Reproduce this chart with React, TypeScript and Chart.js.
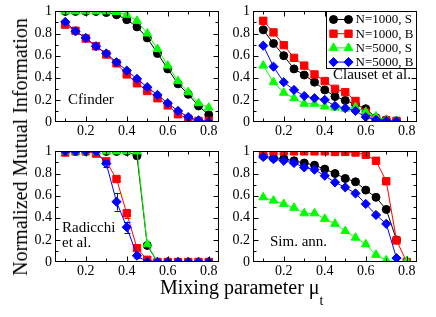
import React, { useEffect, useRef } from 'react';
import { Chart, registerables } from 'chart.js';

Chart.register(...registerables);

const mixing = [0.1, 0.15, 0.2, 0.25, 0.3, 0.35, 0.4, 0.45, 0.5, 0.55, 0.6, 0.65, 0.7, 0.75, 0.8];
const xTickLabels = [0.2, 0.4, 0.6, 0.8];
const yTickLabels = [0, 0.2, 0.4, 0.6, 0.8, 1];
const xTickMarks = [0.1, 0.2, 0.3, 0.4, 0.5, 0.6, 0.7, 0.8];
const yTickMarks = [0.1, 0.2, 0.3, 0.4, 0.5, 0.6, 0.7, 0.8, 0.9];
const seriesLabels = ['N=1000, S', 'N=1000, B', 'N=5000, S', 'N=5000, B'];
const seriesColors = ['#000000', '#ff0000', '#00ff00', '#0000ff'];
const seriesShapes = ['circle', 'rect', 'triangle', 'rectRot'];
const seriesRadius = [4, 5.2, 5, 4.6];

// Cfinder
const cfS1000 = [1, 1, 1, 1, 0.99, 0.97, 0.925, 0.86, 0.76, 0.62, 0.48, 0.345, 0.25, 0.145, 0.065];
const cfB1000 = [0.88, 0.825, 0.755, 0.685, 0.61, 0.53, 0.43, 0.35, 0.28, 0.215, 0.15, 0.07, 0.03, 0.01, 0.01];
const cfS5000 = [1, 1, 1, 1, 1, 0.995, 0.97, 0.915, 0.8, 0.66, 0.51, 0.37, 0.27, 0.17, 0.13];
const cfB5000 = [0.905, 0.82, 0.76, 0.685, 0.62, 0.54, 0.465, 0.39, 0.315, 0.245, 0.17, 0.1, 0.045, 0.015, 0];

// Clauset et al.
const clS1000 = [0.833, 0.71, 0.6, 0.48, 0.425, 0.36, 0.29, 0.23, 0.195, 0.16, 0.12, 0.04, 0.02, 0.01, null];
const clB1000 = [0.915, 0.81, 0.695, 0.58, 0.51, 0.43, 0.37, 0.3, 0.27, 0.19, 0.085, 0.03, 0.015, 0.01, null];
const clS5000 = [0.51, 0.36, 0.265, 0.215, 0.165, 0.165, 0.14, 0.13, 0.12, 0.135, 0.09, 0.05, 0.02, 0.01, null];
const clB5000 = [0.69, 0.5, 0.36, 0.29, 0.235, 0.215, 0.2, 0.145, 0.125, 0.1, 0.045, 0.02, 0.01, 0.005, null];

// Radicchi et al.
const raS1000 = [1, 1, 1, 1, 1, 1, 1, 0.96, 0.15, 0, 0, 0, 0, 0, 0];
const raB1000 = [0.99, 1, 1, 0.98, 0.91, 0.75, 0.44, 0.125, 0.02, 0, 0, 0, 0, 0, 0];
const raS5000 = [1, 1, 1, 1, 1, 1, 1, 1, 0.16, 0, 0, 0, 0, 0, 0];
const raB5000 = [1, 1, 1, 1, 0.89, 0.545, 0.315, 0.057, 0, 0, 0, 0, 0, 0, 0];
const raB1000Err = [0, 0, 0, 0, 0.03, 0.02, 0.04, 0.02, 0, 0, 0, 0, 0, 0, 0];
const raB5000Err = [0, 0, 0, 0, 0.03, 0.08, 0.05, 0.02, 0, 0, 0, 0, 0, 0, 0];

// Simulated annealing
const saS1000 = [0.96, 0.94, 0.935, 0.915, 0.895, 0.875, 0.84, 0.8, 0.755, 0.725, 0.65, 0.585, 0.475, 0.2, null];
const saB1000 = [1, 1, 1, 1, 1, 1, 1, 0.995, 0.995, 0.99, 0.97, 0.915, 0.73, 0.195, 0];
const saS5000 = [0.585, 0.555, 0.525, 0.49, 0.44, 0.44, 0.39, 0.345, 0.28, 0.22, 0.16, 0.065, 0.015, 0, 0.01];
const saB5000 = [0.95, 0.93, 0.915, 0.895, 0.855, 0.835, 0.78, 0.72, 0.675, 0.62, 0.525, 0.425, 0.345, 0.035, null];

const SERIF = '"Liberation Serif", "Times New Roman", serif';
const Y_AXIS_W = 45;
const X_AXIS_H = 20;
const PAD_TOP = 6;
const PAD_RIGHT = 4;
const PLOT_W = 164;
const PLOT_H = 116;

function drawMarker(ctx: CanvasRenderingContext2D, shape: string, x: number, y: number, r: number) {
  ctx.beginPath();
  if (shape === 'circle') {
    ctx.arc(x, y, r, 0, Math.PI * 2);
  } else if (shape === 'rect') {
    const s = Math.SQRT1_2 * r;
    ctx.rect(x - s, y - s, 2 * s, 2 * s);
  } else if (shape === 'triangle') {
    const a = -Math.PI / 2;
    for (let k = 0; k < 3; k++) {
      const ang = a + (k * 2 * Math.PI) / 3;
      const px = x + Math.cos(ang) * r;
      const py = y + Math.sin(ang) * r;
      if (k === 0) ctx.moveTo(px, py);
      else ctx.lineTo(px, py);
    }
    ctx.closePath();
  } else {
    ctx.moveTo(x, y - r);
    ctx.lineTo(x + r, y);
    ctx.lineTo(x, y + r);
    ctx.lineTo(x - r, y);
    ctx.closePath();
  }
  ctx.fill();
  ctx.stroke();
}

const frameTicksPlugin = {
  id: 'frameTicks',
  afterDraw(chart: any) {
    const { ctx, chartArea: a, scales } = chart;
    const xs = scales.x;
    const ys = scales.y;
    ctx.save();
    ctx.strokeStyle = '#000';
    ctx.lineWidth = 1;
    const L = Math.round(a.left) + 0.5;
    const R = Math.round(a.right) - 0.5;
    const T = Math.round(a.top) + 0.5;
    const B = Math.round(a.bottom) - 0.5;
    ctx.beginPath();
    xTickMarks.forEach((v) => {
      const px = Math.round(xs.getPixelForValue(v)) + 0.5;
      const major = Math.round(v * 10) % 2 === 0;
      const len = major ? 5 : 3;
      ctx.moveTo(px, B);
      ctx.lineTo(px, B - len);
      ctx.moveTo(px, T);
      ctx.lineTo(px, T + len);
    });
    yTickMarks.forEach((v) => {
      const py = Math.round(ys.getPixelForValue(v)) + 0.5;
      const major = Math.round(v * 10) % 2 === 0;
      const len = major ? 5 : 3;
      ctx.moveTo(L, py);
      ctx.lineTo(L + len, py);
      ctx.moveTo(R, py);
      ctx.lineTo(R - len, py);
    });
    ctx.stroke();
    ctx.strokeRect(L, T, R - L, B - T);
    ctx.restore();
  },
};

const errorBarPlugin = {
  id: 'errorBars',
  afterDatasetsDraw(chart: any) {
    const { ctx, scales } = chart;
    ctx.save();
    ctx.lineWidth = 1;
    chart.data.datasets.forEach((ds: any) => {
      if (!ds.errors) return;
      ctx.strokeStyle = ds.borderColor;
      ds.data.forEach((p: any, j: number) => {
        const e = ds.errors[j];
        if (!e || p.y == null) return;
        const px = Math.round(scales.x.getPixelForValue(p.x)) + 0.5;
        const y1 = scales.y.getPixelForValue(p.y - e);
        const y2 = scales.y.getPixelForValue(p.y + e);
        ctx.beginPath();
        ctx.moveTo(px, y1);
        ctx.lineTo(px, y2);
        ctx.moveTo(px - 3, Math.round(y1) + 0.5);
        ctx.lineTo(px + 3, Math.round(y1) + 0.5);
        ctx.moveTo(px - 3, Math.round(y2) + 0.5);
        ctx.lineTo(px + 3, Math.round(y2) + 0.5);
        ctx.stroke();
      });
    });
    ctx.restore();
  },
};

const legendBoxPlugin = {
  id: 'legendBox',
  afterDraw(chart: any, _args: any, opts: any) {
    if (!opts || !opts.show) return;
    const { ctx, chartArea: a } = chart;
    const w = 90;
    const h = 57;
    const x0 = Math.round(a.right) - w - 0.5;
    const y0 = Math.round(a.top) + 0.5;
    ctx.save();
    ctx.fillStyle = '#fff';
    ctx.fillRect(x0, y0, w, h);
    ctx.strokeStyle = '#000';
    ctx.lineWidth = 1;
    ctx.strokeRect(x0, y0, w, h);
    chart.data.datasets.forEach((ds: any, i: number) => {
      const y = y0 + 8 + i * 14.2;
      const xa = x0 + 7;
      const xb = x0 + 22;
      ctx.strokeStyle = ds.borderColor;
      ctx.lineWidth = 1;
      ctx.beginPath();
      ctx.moveTo(xa, y);
      ctx.lineTo(xb, y);
      ctx.stroke();
      ctx.fillStyle = ds.backgroundColor;
      drawMarker(ctx, ds.pointStyle, xa, y, ds.pointRadius);
      drawMarker(ctx, ds.pointStyle, xb, y, ds.pointRadius);
      ctx.fillStyle = '#000';
      ctx.font = '13px ' + SERIF;
      ctx.textBaseline = 'middle';
      ctx.textAlign = 'left';
      ctx.fillText(ds.label, x0 + 29, y + 0.5);
    });
    ctx.restore();
  },
};

type PanelProps = {
  left: number;
  top: number;
  series: (number | null)[][];
  errors?: (number[] | undefined)[];
  showLegend?: boolean;
};

function Panel({ left, top, series, errors, showLegend }: PanelProps) {
  const ref = useRef<HTMLCanvasElement | null>(null);
  useEffect(() => {
    if (!ref.current) return;
    const fmt = (v: any) => String(Math.round(Number(v) * 10) / 10);
    const tickFont = { family: SERIF, size: 14 };
    const chart = new Chart(ref.current, {
      type: 'line',
      data: {
        datasets: series.map((vals, i) => ({
          label: seriesLabels[i],
          data: mixing
            .map((x, j) => ({ x, y: vals[j] }))
            .filter((p) => p.y !== null && p.y !== undefined) as any,
          errors: errors ? errors[i] : undefined,
          borderColor: seriesColors[i],
          backgroundColor: seriesColors[i],
          pointBackgroundColor: seriesColors[i],
          pointBorderColor: seriesColors[i],
          pointStyle: seriesShapes[i] as any,
          pointRadius: seriesRadius[i],
          pointBorderWidth: 1,
          borderWidth: 1,
          tension: 0,
          order: 3 - i,
        })) as any,
      },
      options: {
        animation: false,
        responsive: false,
        events: [],
        layout: {
          autoPadding: false,
          padding: { top: PAD_TOP, right: PAD_RIGHT, left: 0, bottom: 0 },
        } as any,
        plugins: {
          legend: { display: false },
          tooltip: { enabled: false },
          legendBox: { show: !!showLegend },
        } as any,
        scales: {
          x: {
            type: 'linear',
            min: 0.05,
            max: 0.85,
            afterBuildTicks: (s: any) => {
              s.ticks = xTickLabels.map((v) => ({ value: v }));
            },
            afterFit: (s: any) => {
              s.height = X_AXIS_H;
            },
            grid: { display: false, drawTicks: false },
            border: { display: false },
            ticks: {
              font: tickFont,
              color: '#000',
              padding: 1,
              maxRotation: 0,
              autoSkip: false,
              callback: fmt,
            },
          },
          y: {
            type: 'linear',
            min: 0,
            max: 1,
            afterBuildTicks: (s: any) => {
              s.ticks = yTickLabels.map((v) => ({ value: v }));
            },
            afterFit: (s: any) => {
              s.width = Y_AXIS_W;
            },
            grid: { display: false, drawTicks: false },
            border: { display: false },
            ticks: {
              font: tickFont,
              color: '#000',
              padding: 3,
              autoSkip: false,
              callback: fmt,
            },
          },
        },
      },
      plugins: [errorBarPlugin, frameTicksPlugin, legendBoxPlugin],
    } as any);
    return () => chart.destroy();
  }, []);
  return (
    <canvas
      ref={ref}
      width={Y_AXIS_W + PLOT_W + PAD_RIGHT}
      height={PAD_TOP + PLOT_H + X_AXIS_H}
      style={{ position: 'absolute', left, top }}
    />
  );
}

const labelStyle: React.CSSProperties = {
  position: 'absolute',
  font: '15px ' + SERIF,
  lineHeight: '15px',
  color: '#000',
  whiteSpace: 'nowrap',
};

export default function App() {
  return (
    <div
      style={{
        position: 'absolute',
        left: 0,
        top: 0,
        width: 436,
        height: 317,
        background: '#fff',
        overflow: 'hidden',
        fontFamily: SERIF,
      }}
    >
      <Panel left={10} top={0} series={[cfS1000, cfB1000, cfS5000, cfB5000]} />
      <Panel left={208} top={0} series={[clS1000, clB1000, clS5000, clB5000]} showLegend />
      <Panel
        left={10}
        top={140}
        series={[raS1000, raB1000, raS5000, raB5000]}
        errors={[undefined, raB1000Err, undefined, raB5000Err]}
      />
      <Panel left={208} top={140} series={[saS1000, saB1000, saS5000, saB5000]} />

      <div style={{ ...labelStyle, left: 68, top: 92 }}>Cfinder</div>
      <div style={{ ...labelStyle, left: 333, top: 67 }}>Clauset et al.</div>
      <div style={{ ...labelStyle, left: 62, top: 220 }}>
        Radicchi
        <br />
        et al.
      </div>
      <div style={{ ...labelStyle, left: 270, top: 234 }}>Sim. ann.</div>

      <div
        style={{
          position: 'absolute',
          left: 20,
          top: 147,
          transform: 'translate(-50%, -50%) rotate(-90deg)',
          font: '20px ' + SERIF,
          lineHeight: '20px',
          whiteSpace: 'nowrap',
          color: '#000',
        }}
      >
        Normalized Mutual Information
      </div>
      <div
        style={{
          position: 'absolute',
          left: 160,
          top: 277,
          font: '20px ' + SERIF,
          lineHeight: '20px',
          whiteSpace: 'nowrap',
          color: '#000',
        }}
      >
        Mixing parameter μ
        <span style={{ position: 'relative', top: 11, fontSize: 14 }}>t</span>
      </div>
    </div>
  );
}
